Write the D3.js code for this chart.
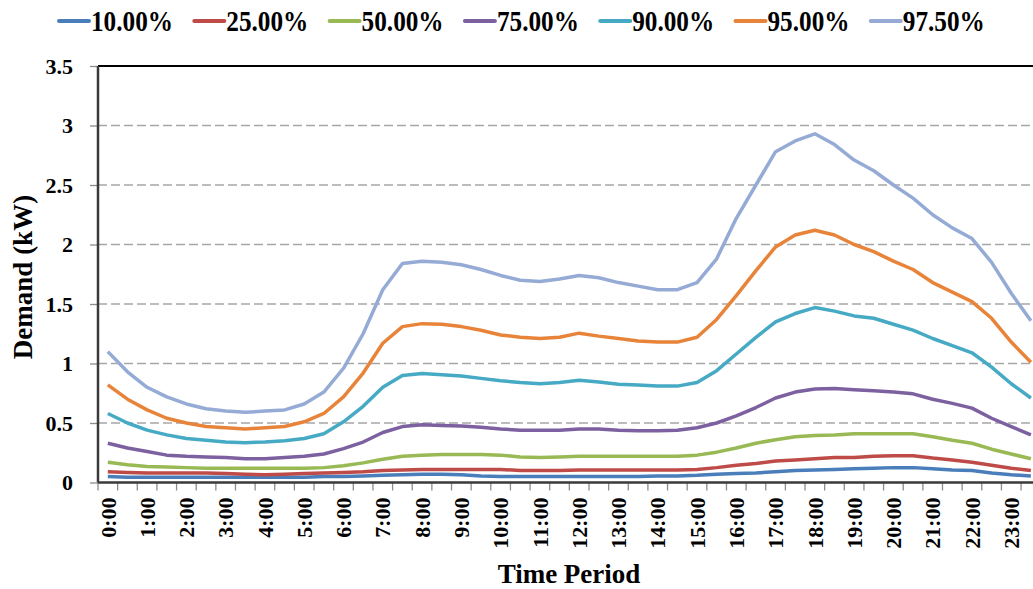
<!DOCTYPE html>
<meta charset="utf-8">
<style>
body { margin: 0; background: #fff; }
text { font-family: "Liberation Serif", "Times New Roman", serif; font-weight: bold; fill: #000; }
.grid line { stroke: #a6a6a6; stroke-width: 1.5; stroke-dasharray: 9,4; }
.series { fill: none; stroke-width: 3.5; stroke-linejoin: round; }
</style>
<body>
<script src="https://d3js.org/d3.v7.min.js"></script>
<script>

// half-hour periods
var periods = [];
for (var h = 0; h < 24; h++) { periods.push(h + ":00"); periods.push(h + ":30"); }
var hourLabels = periods.filter(function(d) { return /:00$/.test(d); });

var seriesNames = ["10.00%", "25.00%", "50.00%", "75.00%", "90.00%", "95.00%", "97.50%"];
var seriesColors = ["#4a7ebb", "#be4b48", "#98b954", "#7d60a0", "#46aac5", "#e8843a", "#95abd5"];

var p10 = [0.05,0.045,0.045,0.045,0.045,0.045,0.045,0.045,0.045,0.045,0.045,0.05,0.05,0.055,0.06,0.065,
  0.07,0.07,0.065,0.055,0.05,0.05,0.05,0.05,0.05,0.05,0.05,0.05,0.055,0.055,0.06,0.07,
  0.075,0.08,0.09,0.10,0.105,0.11,0.115,0.12,0.125,0.125,0.115,0.105,0.10,0.08,0.065,0.055];
var p25 = [0.09,0.085,0.08,0.08,0.08,0.08,0.075,0.07,0.065,0.07,0.075,0.08,0.085,0.09,0.10,0.105,
  0.11,0.11,0.11,0.11,0.11,0.10,0.10,0.10,0.105,0.105,0.105,0.105,0.105,0.105,0.11,0.125,
  0.145,0.16,0.18,0.19,0.20,0.21,0.21,0.22,0.225,0.225,0.205,0.19,0.17,0.145,0.12,0.10];
var p50 = [0.17,0.15,0.135,0.13,0.125,0.12,0.12,0.12,0.12,0.12,0.12,0.125,0.14,0.165,0.195,0.22,
  0.23,0.235,0.235,0.235,0.23,0.215,0.21,0.215,0.22,0.22,0.22,0.22,0.22,0.22,0.23,0.255,
  0.29,0.33,0.36,0.385,0.395,0.40,0.41,0.41,0.41,0.41,0.385,0.355,0.33,0.28,0.24,0.20];
var p75 = [0.33,0.29,0.26,0.23,0.22,0.215,0.21,0.20,0.20,0.21,0.22,0.24,0.285,0.34,0.42,0.47,
  0.485,0.48,0.475,0.465,0.45,0.44,0.44,0.44,0.45,0.45,0.44,0.435,0.435,0.44,0.46,0.50,
  0.56,0.63,0.71,0.76,0.785,0.79,0.78,0.77,0.76,0.745,0.70,0.665,0.625,0.54,0.47,0.40];
var p90 = [0.58,0.50,0.44,0.40,0.37,0.355,0.34,0.335,0.34,0.35,0.37,0.41,0.51,0.64,0.80,0.90,
  0.915,0.905,0.895,0.875,0.855,0.84,0.83,0.84,0.86,0.845,0.825,0.82,0.81,0.81,0.84,0.94,
  1.08,1.22,1.35,1.42,1.47,1.44,1.40,1.38,1.33,1.28,1.21,1.15,1.09,0.97,0.83,0.71];
var p95 = [0.82,0.70,0.61,0.54,0.50,0.47,0.46,0.45,0.46,0.47,0.51,0.58,0.72,0.92,1.17,1.31,
  1.335,1.33,1.31,1.28,1.24,1.22,1.21,1.22,1.255,1.23,1.21,1.19,1.18,1.18,1.22,1.37,
  1.57,1.78,1.98,2.08,2.12,2.08,2.00,1.94,1.86,1.79,1.68,1.60,1.52,1.38,1.18,1.01];
var p975 = [1.10,0.93,0.80,0.72,0.66,0.62,0.60,0.59,0.60,0.61,0.66,0.76,0.96,1.25,1.62,1.84,
  1.86,1.85,1.83,1.79,1.74,1.70,1.69,1.71,1.74,1.72,1.68,1.65,1.62,1.62,1.68,1.88,
  2.22,2.50,2.78,2.87,2.93,2.84,2.71,2.62,2.50,2.39,2.25,2.14,2.05,1.85,1.59,1.36];

var seriesValues = [p10, p25, p50, p75, p90, p95, p975];
var yTicks = [0, 0.5, 1, 1.5, 2, 2.5, 3, 3.5];

// plot area (runs a little past the right edge, like the original)
var margin = {top: 66, left: 98},
    width = 942.7,
    height = 416.5;

var svg = d3.select("body").append("svg")
    .attr("width", 1033)
    .attr("height", 589);

var g = svg.append("g")
    .attr("transform", "translate(" + margin.left + "," + margin.top + ")");

var x = d3.scaleBand().domain(periods).range([0, width]).paddingInner(0).paddingOuter(0);
var y = d3.scaleLinear().domain([0, 3.5]).range([height, 0]);

// dashed gridlines
g.append("g").attr("class", "grid")
  .selectAll("line")
  .data(yTicks.filter(function(d) { return d > 0 && d < 3.5; }))
  .enter().append("line")
    .attr("x1", 0).attr("x2", width)
    .attr("y1", function(d) { return y(d); })
    .attr("y2", function(d) { return y(d); });

// top border
g.append("line")
    .attr("x1", 0).attr("x2", width)
    .attr("y1", 0).attr("y2", 0)
    .attr("stroke", "#000").attr("stroke-width", 2);

// y axis
var yAxis = g.append("g")
    .call(d3.axisLeft(y).tickValues(yTicks).tickSize(8).tickPadding(17)
      .tickFormat(function(d) { return String(d); }));
yAxis.select(".domain").remove();
yAxis.selectAll(".tick line").attr("stroke", "#8c8c8c").attr("stroke-width", 1.3);
yAxis.selectAll("text").attr("font-size", 22).attr("font-family", null).style("fill", "#000");

// x axis: tick marks at category boundaries, labels every hour
var bounds = periods.map(function(d) { return x(d); }).concat([width]);
g.append("g").selectAll("line")
  .data(bounds)
  .enter().append("line")
    .attr("x1", function(d) { return d; }).attr("x2", function(d) { return d; })
    .attr("y1", height).attr("y2", height + 8)
    .attr("stroke", "#8c8c8c").attr("stroke-width", 1.3);

var xAxis = g.append("g")
    .attr("transform", "translate(0," + height + ")")
    .call(d3.axisBottom(x).tickValues(hourLabels).tickSize(0));
xAxis.select(".domain").remove();
xAxis.selectAll("text")
    .attr("font-size", 22).attr("font-family", null)
    .style("text-anchor", "end")
    .attr("x", -15).attr("y", 0).attr("dy", "0.35em")
    .attr("transform", "rotate(-90)");

// axis lines
g.append("line")
    .attr("x1", 0).attr("x2", width).attr("y1", height).attr("y2", height)
    .attr("stroke", "#3a3a3a").attr("stroke-width", 2.5);
g.append("line")
    .attr("x1", 0).attr("x2", 0).attr("y1", 0).attr("y2", height)
    .attr("stroke", "#3a3a3a").attr("stroke-width", 2.5);

// series lines
var line = d3.line()
    .x(function(d, i) { return x(periods[i]) + x.bandwidth() / 2; })
    .y(function(d) { return y(d); });

g.selectAll(".series")
    .data(seriesValues)
  .enter().append("path")
    .attr("class", "series")
    .attr("stroke", function(d, i) { return seriesColors[i]; })
    .attr("d", line);

// axis titles
svg.append("text")
    .attr("transform", "translate(32,277) rotate(-90)")
    .attr("text-anchor", "middle")
    .attr("font-size", 27)
    .text("Demand (kW)");

svg.append("text")
    .attr("x", 569).attr("y", 583)
    .attr("text-anchor", "middle")
    .attr("font-size", 27)
    .text("Time Period");

// legend (condensed text, as in the original)
var legend = svg.append("g").selectAll("g")
    .data(seriesNames)
  .enter().append("g")
    .attr("transform", function(d, i) { return "translate(" + (58 + i * 135.3) + ",0)"; });

legend.append("line")
    .attr("x1", 1).attr("x2", 31).attr("y1", 21).attr("y2", 21)
    .attr("stroke", function(d, i) { return seriesColors[i]; })
    .attr("stroke-width", 4).attr("stroke-linecap", "round");

legend.append("text")
    .attr("x", 33).attr("y", 31)
    .attr("font-size", 30)
    .attr("textLength", 82)
    .attr("lengthAdjust", "spacingAndGlyphs")
    .text(function(d) { return d; });

</script>
</body>
